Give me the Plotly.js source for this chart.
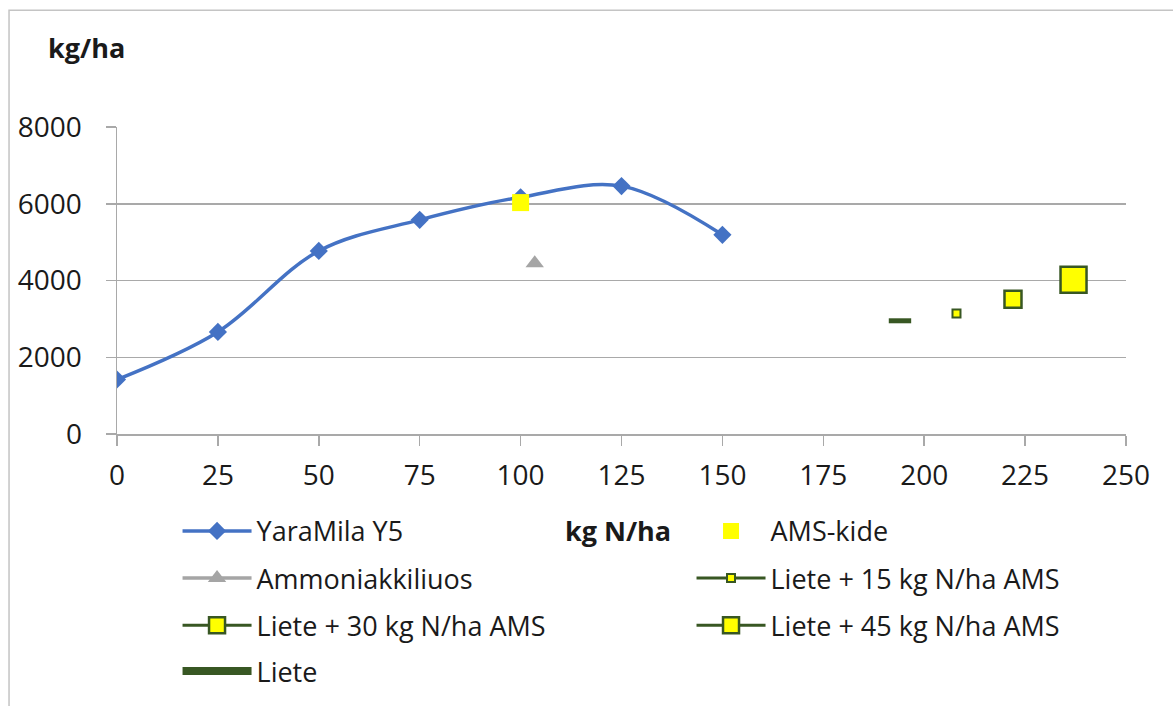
<!DOCTYPE html>
<html>
<head>
<meta charset="utf-8">
<script src="https://cdn.plot.ly/plotly-3.0.1.min.js"></script>
<style>
  html, body { margin: 0; padding: 0; background: #ffffff; }
  #chart { width: 1173px; height: 706px; }
</style>
</head>
<body>
<div id="chart"></div>
<script>
// Yield response (kg/ha) against nitrogen rate (kg N/ha)
const yaraN = [0, 25, 50, 75, 100, 125, 150];
const yaraYield = [1420, 2660, 4770, 5580, 6170, 6460, 5190];

const amsN = [100];
const amsYield = [6030];

const ammoniaN = [103.5];
const ammoniaYield = [4450];

const lieteN = [194];
const lieteYield = [2950];

const liete15N = [208];
const liete15Yield = [3140];

const liete30N = [222];
const liete30Yield = [3510];

const liete45N = [237];
const liete45Yield = [4020];

const xTicks = [0, 25, 50, 75, 100, 125, 150, 175, 200, 225, 250];
const yTicks = [0, 2000, 4000, 6000, 8000];

const FONT = '"Open Sans", "Liberation Sans", sans-serif';
const BLUE = '#4472C4';
const GREY = '#A5A5A5';
const GREEN = '#385723';
const YELLOW = '#FFFF00';
const GRID = '#A9A9A9';
const TEXT = '#1a1a1a';

const traces = [
  {
    name: 'YaraMila Y5', x: yaraN, y: yaraYield, type: 'scatter', mode: 'lines+markers',
    line: { color: BLUE, width: 3.5, shape: 'spline', smoothing: 1 },
    marker: { symbol: 'diamond', size: 14, color: BLUE },
    legend: 'legend'
  },
  {
    name: 'AMS-kide', x: amsN, y: amsYield, type: 'scatter', mode: 'markers',
    marker: { symbol: 'square', size: 17, color: YELLOW },
    legend: 'legend2'
  },
  {
    name: 'Ammoniakkiliuos', x: ammoniaN, y: ammoniaYield, type: 'scatter', mode: 'lines+markers',
    line: { color: GREY, width: 3.5 },
    marker: { symbol: 'triangle-up', size: 16, color: GREY },
    legend: 'legend3'
  },
  {
    name: 'Liete + 15 kg N/ha AMS', x: liete15N, y: liete15Yield, type: 'scatter', mode: 'lines+markers',
    line: { color: GREEN, width: 3 },
    marker: { symbol: 'square', size: 8, color: YELLOW, line: { color: GREEN, width: 2 } },
    legend: 'legend4'
  },
  {
    name: 'Liete + 30 kg N/ha AMS', x: liete30N, y: liete30Yield, type: 'scatter', mode: 'lines+markers',
    line: { color: GREEN, width: 3 },
    marker: { symbol: 'square', size: 17, color: YELLOW, line: { color: GREEN, width: 2.5 } },
    legend: 'legend5'
  },
  {
    name: 'Liete + 45 kg N/ha AMS', x: liete45N, y: liete45Yield, type: 'scatter', mode: 'lines+markers',
    line: { color: GREEN, width: 3 },
    marker: { symbol: 'square', size: 26, color: YELLOW, line: { color: GREEN, width: 2.5 } },
    legend: 'legend6'
  },
  {
    name: 'Liete', x: lieteN, y: lieteYield, type: 'scatter', mode: 'lines+markers',
    line: { color: GREEN, width: 8 },
    marker: { symbol: 'line-ew', size: 16, color: GREEN, line: { color: GREEN, width: 5 } },
    legend: 'legend7'
  }
];

// one legend box per entry, laid out in two columns below the axis
function legendEntry(x, y) {
  return {
    orientation: 'v', x: x, xanchor: 'left', y: y, yanchor: 'middle',
    font: { family: FONT, size: 27, color: TEXT },
    bgcolor: 'rgba(0,0,0,0)', itemwidth: 69,
    itemclick: false, itemdoubleclick: false
  };
}
const COL1 = 0.060;
const COL2 = 0.5694;

const layout = {
  width: 1173, height: 706,
  margin: { l: 117, r: 47, t: 127, b: 271.3 },
  paper_bgcolor: '#ffffff', plot_bgcolor: '#ffffff',
  font: { family: FONT, color: TEXT },
  showlegend: true,
  hovermode: false,
  xaxis: {
    range: [0, 250], tickvals: xTicks, ticktext: xTicks.map(String),
    showgrid: false, zeroline: false,
    showline: true, linecolor: GRID, linewidth: 1.5,
    ticks: 'outside', ticklen: 10, tickwidth: 1.5, tickcolor: GRID,
    ticklabelstandoff: 6,
    tickfont: { family: FONT, size: 28, color: TEXT }
  },
  yaxis: {
    range: [0, 8000], tickvals: yTicks, ticktext: yTicks.map(String),
    showgrid: true, gridcolor: GRID, gridwidth: 1.5, zeroline: false,
    showline: true, linecolor: GRID, linewidth: 1.5,
    ticks: 'outside', ticklen: 10, tickwidth: 1.5, tickcolor: GRID,
    ticklabelstandoff: 18,
    tickfont: { family: FONT, size: 28, color: TEXT }
  },
  legend: legendEntry(COL1, -0.313),
  legend2: legendEntry(COL2, -0.313),
  legend3: legendEntry(COL1, -0.466),
  legend4: legendEntry(COL2, -0.466),
  legend5: legendEntry(COL1, -0.619),
  legend6: legendEntry(COL2, -0.619),
  legend7: legendEntry(COL1, -0.768),
  annotations: [
    {
      text: '<b>kg/ha</b>', xref: 'paper', yref: 'paper', x: -0.0307, y: 1.26,
      xanchor: 'center', yanchor: 'middle', showarrow: false,
      font: { family: FONT, size: 27, color: TEXT }
    },
    {
      text: '<b>kg N/ha</b>', xref: 'paper', yref: 'paper', x: 0.4965, y: -0.313,
      xanchor: 'center', yanchor: 'middle', showarrow: false,
      font: { family: FONT, size: 27, color: TEXT }
    }
  ],
  shapes: [
    {
      type: 'rect', xref: 'paper', yref: 'paper', layer: 'below',
      x0: -0.107, x1: 1.06, y0: -0.92, y1: 1.38,
      line: { color: '#C4C4C4', width: 1.5 }, fillcolor: 'rgba(0,0,0,0)'
    }
  ]
};

Plotly.newPlot('chart', traces, layout, { staticPlot: true, displayModeBar: false });
</script>
</body>
</html>
